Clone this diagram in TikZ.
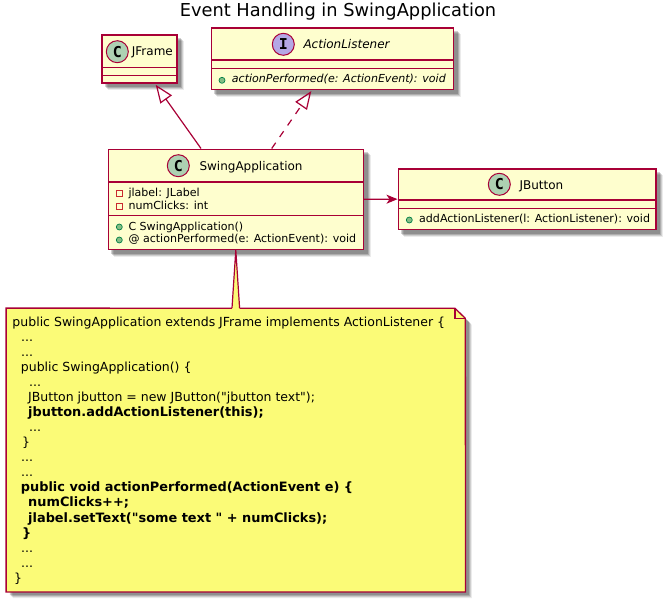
\documentclass[tikz,border=0pt]{standalone}
\usepackage{fontspec}
\setmainfont{DejaVu Sans}[Ligatures=TeXOff]
\newfontfamily\spotfont{DejaVu Sans Mono}
\usetikzlibrary{arrows.meta,backgrounds,calc}
\definecolor{boxfill}{HTML}{FEFECE}
\definecolor{umlred}{HTML}{A80036}
\definecolor{notefill}{HTML}{FBFB77}
\definecolor{spotc}{HTML}{ADD1B2}
\definecolor{spoti}{HTML}{B4A7E5}
\definecolor{pubfill}{HTML}{84BE84}
\definecolor{publine}{HTML}{038048}
\definecolor{privline}{HTML}{C82930}
\tikzset{
  umlbox/.style={rectangle,draw=umlred,fill=boxfill,line width=1.6pt,inner sep=0pt},
  divider/.style={draw=umlred,line width=1.6pt},
  spot/.style={circle,draw=umlred,line width=1pt,minimum size=22pt,inner sep=0pt,font=\spotfont\bfseries\fontsize{15}{15}\selectfont},
  title/.style={anchor=base,inner sep=0pt,font=\fontsize{17.8}{18}\selectfont},
  classname/.style={anchor=base west,inner sep=0pt,font=\fontsize{12}{14}\selectfont},
  member/.style={anchor=base west,inner sep=0pt,font=\fontsize{11.05}{13}\selectfont},
  notetext/.style={anchor=base west,inner sep=0pt,font=\fontsize{12.5}{15}\selectfont},
  notebold/.style={anchor=base west,inner sep=0pt,font=\bfseries\fontsize{12.9}{15}\selectfont},
  pub/.style={circle,draw=publine,fill=pubfill,line width=.7pt,minimum size=6pt,inner sep=0pt},
  priv/.style={rectangle,draw=privline,fill=boxfill,line width=.8pt,minimum size=6pt,inner sep=0pt},
  inherit/.style={draw=umlred,line width=1.2pt,-{Triangle[open,length=18pt,width=14pt]}},
}
\newcommand{\softshadow}[1]{%
  \foreach \d/\o in {6.5/.08,5.5/.12,4.5/.16,3.5/.18}
    \fill[black,opacity=\o] ($(#1.north west)+(\d,\d)$) rectangle ($(#1.south east)+(\d,\d)$);}
\begin{document}
\begin{tikzpicture}[x=1pt,y=-1pt]
\useasboundingbox (0,0) rectangle (666,602);
\node[title] (ttl) at (338,17) {Event Handling in SwingApplication};

% JFrame
\node[umlbox,minimum width=74.7pt,minimum height=48pt] (jframe) at (139.35,59) {};
\draw[divider] (102,67.3) -- (176.7,67.3) (102,75.3) -- (176.7,75.3);
\node[spot,fill=spotc] (jframespot) at (117.3,51.7) {C};
\node[classname] (jframename) at (131.7,56) {JFrame};

% ActionListener
\node[umlbox,minimum width=242pt,minimum height=61pt] (listener) at (332.3,58.8) {};
\draw[divider] (211.3,60.3) -- (453.3,60.3) (211.3,68.3) -- (453.3,68.3);
\node[spot,fill=spoti] (listenerspot) at (283.3,44.3) {I};
\node[classname,font=\itshape\fontsize{12}{14}\selectfont] (listenername) at (303.3,48.7) {ActionListener};
\node[pub] (listenericon) at (222,80.3) {};
\node[member,font=\itshape\fontsize{11.05}{13}\selectfont] (listenerm) at (231.7,82.7) {actionPerformed(e: ActionEvent): void};

% SwingApplication
\node[umlbox,minimum width=255pt,minimum height=100pt] (app) at (235.8,199.3) {};
\draw[divider] (108.3,181.7) -- (363.3,181.7) (108.3,215.3) -- (363.3,215.3);
\node[spot,fill=spotc] (appspot) at (178.3,165.7) {C};
\node[classname] (appname) at (199.3,170.7) {SwingApplication};
\node[priv] (appi1) at (119.3,193.3) {};
\node[member] (appm1) at (128.3,196) {jlabel: JLabel};
\node[priv] (appi2) at (119.3,206) {};
\node[member] (appm2) at (128.3,209) {numClicks: int};
\node[pub] (appi3) at (119.3,227) {};
\node[member] (appm3) at (128.3,230) {C SwingApplication()};
\node[pub] (appi4) at (119.3,240) {};
\node[member] (appm4) at (128.3,242.7) {@ actionPerformed(e: ActionEvent): void};

% JButton
\node[umlbox,minimum width=257.4pt,minimum height=60.3pt] (button) at (527,199.15) {};
\draw[divider] (398.3,200) -- (655.7,200) (398.3,208.3) -- (655.7,208.3);
\node[spot,fill=spotc] (buttonspot) at (499.3,184.3) {C};
\node[classname] (buttonname) at (519.3,189.3) {JButton};
\node[pub] (buttonicon) at (409.3,220) {};
\node[member] (buttonm) at (419,222.7) {addActionListener(l: ActionListener): void};

% Note
\node[rectangle,inner sep=0pt,minimum width=459pt,minimum height=283.4pt] (note) at (235.8,450) {};
\fill[notefill] (note.north west) -- (455,308.3) -- (465.3,318.3) -- (note.south east) -- (note.south west) -- cycle;
\draw[umlred,line width=1.3pt] (note.north west) -- (455,308.3) -- (465.3,318.3) -- (note.south east) -- (note.south west) -- cycle;
\draw[umlred,line width=1.2pt] (455,308.3) -- (455,318.3) -- (465.3,318.3);

\node[notetext] (n1) at (12.3,326) {public SwingApplication extends JFrame implements ActionListener \{};
\node[notetext] (n2) at (21,341) {...};
\node[notetext] (n3) at (21,356) {...};
\node[notetext] (n4) at (20.7,371) {public SwingApplication() \{};
\node[notetext] (n5) at (29,386) {...};
\node[notetext] (n6) at (28,401) {JButton jbutton = new JButton("jbutton text");};
\node[notebold] (n7) at (28,416) {jbutton.addActionListener(this);};
\node[notetext] (n8) at (29,431) {...};
\node[notetext] (n9) at (22,446) {\}};
\node[notetext] (n10) at (21,461) {...};
\node[notetext] (n11) at (21,476) {...};
\node[notebold] (n12) at (20.7,491.5) {public void actionPerformed(ActionEvent e) \{};
\node[notebold] (n13) at (28,506.5) {numClicks++;};
\node[notebold] (n14) at (28,522) {jlabel.setText("some text " + numClicks);};
\node[notebold] (n15) at (22,537) {\}};
\node[notetext] (n16) at (21,552) {...};
\node[notetext] (n17) at (21,567) {...};
\node[notetext] (n18) at (14,582) {\}};

% Shadows
\begin{scope}[on background layer]
  \softshadow{jframe}
  \softshadow{listener}
  \softshadow{app}
  \softshadow{button}
  \foreach \d/\o in {6.5/.08,5.5/.12,4.5/.16,3.5/.18}
    \fill[black,opacity=\o,shift={(\d,\d)}] (6.3,308.3) -- (455,308.3) -- (465.3,318.3) -- (465.3,591.7) -- (6.3,591.7) -- cycle;
\end{scope}

% Connectors
\draw[inherit] ($(app.north)+(-34.8,0)$) -- ($(jframe.south)+(16.4,1)$);
\draw[inherit,dash pattern=on 7pt off 7pt] ($(app.north)+(35.9,0)$) -- ($(listener.south)+(-21,1)$);
\draw[draw=umlred,line width=1.2pt,-{Stealth[length=11pt,width=9pt,inset=3pt]}] (app.east) -- (button.west);
\fill[notefill] (app.south) -- ($(note.north)+(3.8,0.7)$) -- ($(note.north)+(-3.8,0.7)$) -- cycle;
\draw[umlred,line width=1.2pt] ($(note.north)+(-3.8,0)$) -- (app.south) -- ($(note.north)+(3.8,0)$);
\end{tikzpicture}
\end{document}
